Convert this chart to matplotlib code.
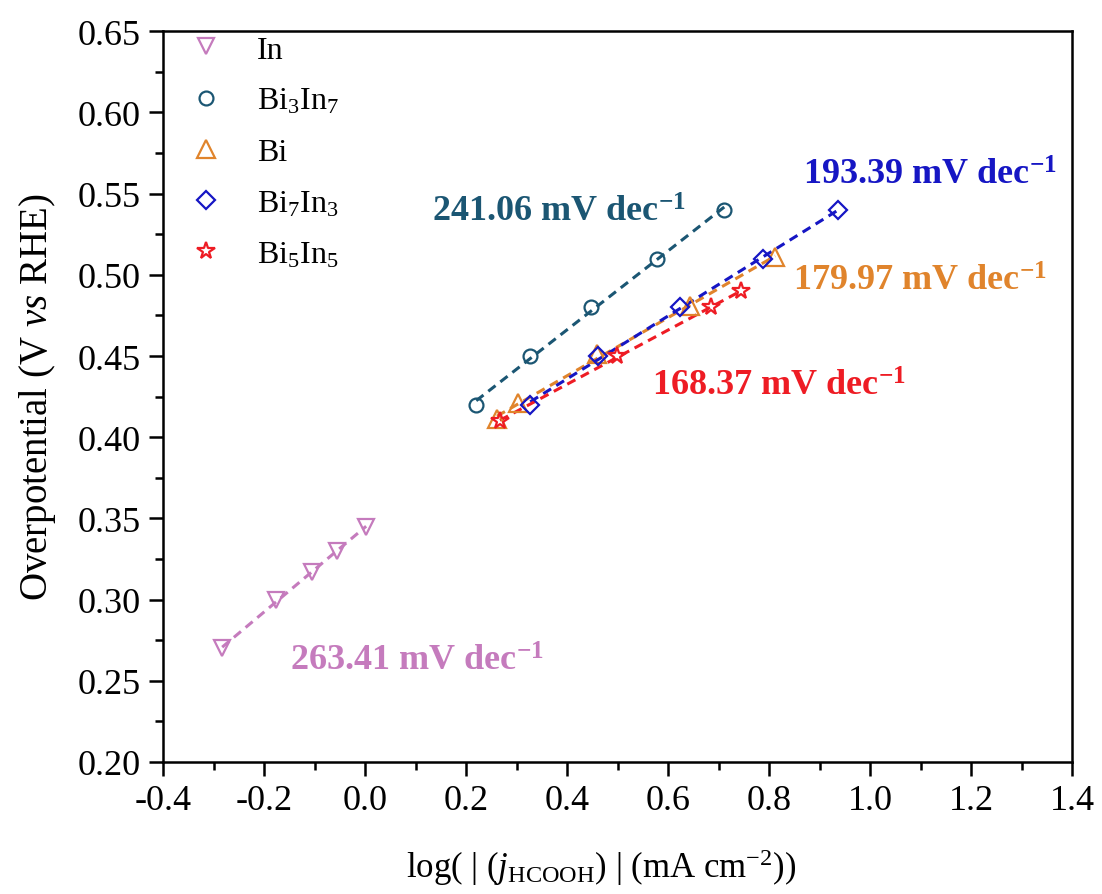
import numpy as np
import matplotlib
matplotlib.use("Agg")
import matplotlib.pyplot as plt
from matplotlib.ticker import MultipleLocator

plt.rcParams['font.family'] = ['Liberation Serif', 'DejaVu Serif']
plt.rcParams['mathtext.fontset'] = 'custom'
plt.rcParams['mathtext.rm'] = 'Liberation Serif'
plt.rcParams['mathtext.it'] = 'Liberation Serif:italic'
plt.rcParams['mathtext.bf'] = 'Liberation Serif:bold'

# данные
in_x = [-0.283, -0.176, -0.105, -0.055, 0.002]
in_y = [0.270, 0.300, 0.317, 0.330, 0.345]

bi3in7_x = [0.220, 0.327, 0.448, 0.578, 0.711]
bi3in7_y = [0.420, 0.450, 0.480, 0.510, 0.540]

bi_x = [0.261, 0.303, 0.459, 0.644, 0.812]
bi_y = [0.411, 0.421, 0.451, 0.481, 0.511]

bi7in3_x = [0.327, 0.461, 0.624, 0.788, 0.937]
bi7in3_y = [0.420, 0.450, 0.480, 0.510, 0.540]

bi5in5_x = [0.267, 0.499, 0.685, 0.745]
bi5in5_y = [0.410, 0.450, 0.480, 0.490]

labels = ['In', 'Bi$_3$In$_7$', 'Bi', 'Bi$_7$In$_3$', 'Bi$_5$In$_5$']
colors = ['#c57bbd', '#1b5673', '#e0842c', '#1616c4', '#ee1c24']
markers = ['v', 'o', '^', 'D', '*']
msizes = [11, 10, 13, 9, 13]

slopes = ['263.41', '241.06', '179.97', '193.39', '168.37']
text_pos = [(-0.149, 0.257), (0.133, 0.533), (0.848, 0.491), (0.867, 0.556), (0.568, 0.426)]

series = [(in_x, in_y), (bi3in7_x, bi3in7_y), (bi_x, bi_y), (bi7in3_x, bi7in3_y), (bi5in5_x, bi5in5_y)]

fig = plt.figure(figsize=(11.02, 8.95), dpi=100)
ax = fig.add_axes([0.148, 0.1475, 0.825, 0.8165])

for (xs, ys), lab, c, m, ms in zip(series, labels, colors, markers, msizes):
    xs = np.array(xs)
    ys = np.array(ys)
    # линейная аппроксимация (наклон Тафеля)
    k, b = np.polyfit(xs, ys, 1)
    xf = np.array([xs.min(), xs.max()])
    ax.plot(xf, k * xf + b, '--', color=c, lw=2.2, dashes=(3, 2), zorder=2)
    ax.plot(xs, ys, linestyle='none', marker=m, ms=ms, mfc='none', mec=c, mew=1.6,
            label=lab, zorder=3)

for s, (tx, ty), c in zip(slopes, text_pos, colors):
    ax.text(tx, ty, s + r' mV dec$^{\mathbf{-1}}$', color=c, fontsize=26,
            fontweight='bold', va='baseline', ha='left')

ax.set_xlim(-0.4, 1.4)
ax.set_ylim(0.20, 0.65)
ax.xaxis.set_minor_locator(MultipleLocator(0.1))
ax.yaxis.set_minor_locator(MultipleLocator(0.025))
ax.set_xticks(np.arange(-0.4, 1.41, 0.2))
ax.set_xticklabels(['-0.4', '-0.2', '0.0', '0.2', '0.4', '0.6', '0.8', '1.0', '1.2', '1.4'])
ax.set_yticks(np.arange(0.20, 0.651, 0.05))
ax.set_yticklabels(['%.2f' % v for v in np.arange(0.20, 0.651, 0.05)])

ax.tick_params(which='both', direction='out', top=False, right=False, labelsize=26, width=1.8)
ax.tick_params(which='major', length=10, pad=6)
ax.tick_params(which='minor', length=6)
for sp in ax.spines.values():
    sp.set_linewidth(1.8)

ax.set_xlabel(r'log( | ($j_{\rm HCOOH}$) | (mA cm$^{-2}$))', fontsize=25, labelpad=22)
ax.xaxis.set_label_coords(0.482, -0.115)
ax.set_ylabel(r'Overpotential (V $vs$ RHE)', fontsize=28, labelpad=14)

ax.legend(loc='upper left', frameon=False, fontsize=23, handletextpad=0.95,
          labelspacing=0.68, borderaxespad=0.0, handlelength=1.3,
          bbox_to_anchor=(0.01, 1.012))

fig.savefig('out.png', dpi=100)
